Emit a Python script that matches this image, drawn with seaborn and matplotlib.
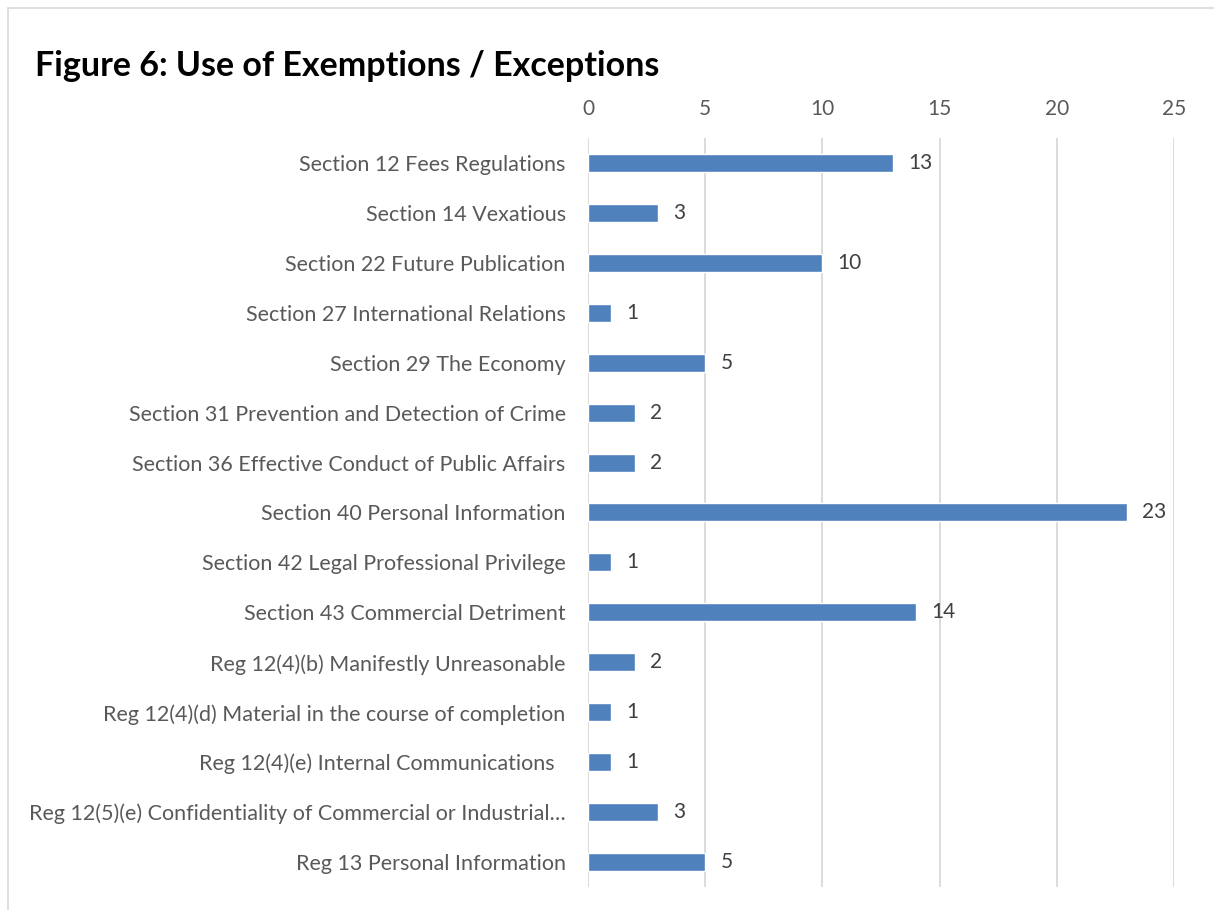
#!/usr/bin/env python3

import pandas as pd
import seaborn as sns
import matplotlib.pyplot as plt
from matplotlib.patches import Rectangle

categories = [
    "Section 12 Fees Regulations",
    "Section 14 Vexatious",
    "Section 22 Future Publication",
    "Section 27 International Relations",
    "Section 29 The Economy",
    "Section 31 Prevention and Detection of Crime",
    "Section 36 Effective Conduct of Public Affairs",
    "Section 40 Personal Information",
    "Section 42 Legal Professional Privilege",
    "Section 43 Commercial Detriment",
    "Reg 12(4)(b) Manifestly Unreasonable",
    "Reg 12(4)(d) Material in the course of completion",
    "Reg 12(4)(e) Internal Communications  ",
    "Reg 12(5)(e) Confidentiality of Commercial or Industrial\u2026",
    "Reg 13 Personal Information",
]
counts = [13, 3, 10, 1, 5, 2, 2, 23, 1, 14, 2, 1, 1, 3, 5]
x_ticks = [0, 5, 10, 15, 20, 25]
title = "Figure 6: Use of Exemptions / Exceptions"

df = pd.DataFrame({"category": categories, "count": counts})

sns.set_style("white")
plt.rcParams["font.family"] = ["Lato", "DejaVu Sans"]

fig = plt.figure(figsize=(12.14, 9.10), dpi=100)
ax = fig.add_axes([0.4843, 0.0253, 0.4827, 0.8231])

sns.barplot(data=df, y="category", x="count", orient="h", color="#4F81BD",
            saturation=1, width=0.36, ax=ax, zorder=3)

ax.set_xlim(0, 25)
ax.set_ylim(len(categories) - 0.5, -0.5)
ax.set_xticks(x_ticks)
ax.xaxis.tick_top()
ax.grid(axis="x", color="#D9D9D9", linewidth=1.3, zorder=0)
ax.set_axisbelow(True)
for s in ax.spines.values():
    s.set_visible(False)
ax.tick_params(axis="x", length=0, pad=14, labelsize=15, labelcolor="#595959")
ax.tick_params(axis="y", length=0, pad=16, labelsize=15.5, labelcolor="#595959")
ax.set_xlabel("")
ax.set_ylabel("")

for container in ax.containers:
    ax.bar_label(container, padding=11, fontsize=15, color="#404040")

fig.text(0.029, 0.927, title, fontsize=24.5, fontweight="bold", color="black",
         va="center", ha="left")

fig.patches.append(Rectangle((8 / 1214, -0.1), 1.2, 1.1 - 8 / 910,
                             transform=fig.transFigure, fill=False,
                             edgecolor="#D9D9D9", linewidth=1.2))

fig.savefig("out.png", dpi=100)
